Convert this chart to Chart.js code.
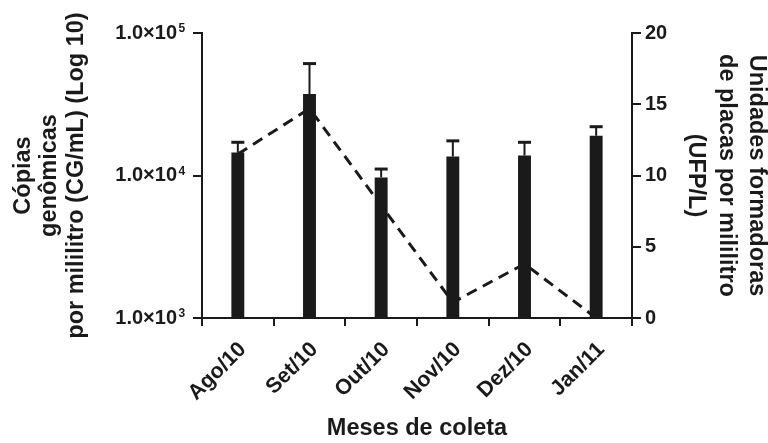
<!DOCTYPE html>
<html>
<head>
<meta charset="utf-8">
<script src="https://cdn.jsdelivr.net/npm/chart.js@4"></script>
<style>
  html, body { margin: 0; padding: 0; background: #fff; }
  #wrap { width: 768px; height: 443px; }
</style>
</head>
<body>
<div id="wrap"><canvas id="chart" width="768" height="443"></canvas></div>
<script>
"use strict";

// data
const months = ["Ago/10", "Set/10", "Out/10", "Nov/10", "Dez/10", "Jan/11"];
const copies = [14500, 37300, 9700, 13600, 13800, 19000];        // CG/mL (bars)
const copiesUpper = [17100, 61000, 11100, 17500, 17100, 22000];  // top of error bars
const ufp = [11.5, 14.7, 7.9, 1.1, 3.8, 0];                      // UFP/L (dashed line)
const leftTicks = [1000, 10000, 100000];
const leftTickBase = "1.0×10";
const leftTickExp = ["3", "4", "5"];
const rightTicks = [0, 5, 10, 15, 20];

const INK = "#1a1a1a";
const FONT = "'Liberation Sans', Arial, sans-serif";
const TICK_LEN = 9;
const LEFT_PAD = 16;

// error bars (upper only) drawn from the y scale
const errorBars = {
    id: "errorBars",
    afterDatasetsDraw(chart) {
        const meta = chart.getDatasetMeta(0);
        const y = chart.scales.y;
        const ctx = chart.ctx;
        ctx.save();
        ctx.strokeStyle = INK;
        meta.data.forEach((bar, i) => {
            const top = y.getPixelForValue(copiesUpper[i]);
            ctx.lineWidth = 2;
            ctx.beginPath();
            ctx.moveTo(bar.x, bar.y);
            ctx.lineTo(bar.x, top);
            ctx.stroke();
            ctx.lineWidth = 3;
            ctx.beginPath();
            ctx.moveTo(bar.x - 6.5, top);
            ctx.lineTo(bar.x + 6.5, top);
            ctx.stroke();
        });
        ctx.restore();
    }
};

// exponents of the left tick labels (1.0x10^n)
const exponents = {
    id: "exponents",
    afterDraw(chart) {
        const y = chart.scales.y;
        const ctx = chart.ctx;
        ctx.save();
        ctx.fillStyle = INK;
        ctx.font = "bold 12px " + FONT;
        ctx.textAlign = "left";
        ctx.textBaseline = "alphabetic";
        leftTicks.forEach((v, i) => {
            const py = y.getPixelForValue(v);
            ctx.fillText(leftTickExp[i], y.right - TICK_LEN - LEFT_PAD + 1.5, py - 1);
        });
        ctx.restore();
    }
};

const axisGrid = { drawOnChartArea: false, drawTicks: true, tickLength: TICK_LEN, color: INK, lineWidth: 2 };
const axisBorder = { display: true, color: INK, width: 2 };

new Chart(document.getElementById("chart"), {
    data: {
        labels: months,
        datasets: [
            {
                type: "bar",
                data: copies,
                yAxisID: "y",
                backgroundColor: INK,
                barPercentage: 0.18,
                categoryPercentage: 1,
                order: 2
            },
            {
                type: "line",
                data: ufp,
                yAxisID: "y1",
                borderColor: INK,
                borderWidth: 3,
                borderDash: [11, 7],
                pointRadius: 0,
                tension: 0,
                order: 1
            }
        ]
    },
    options: {
        responsive: false,
        animation: false,
        layout: { padding: { top: 33, left: 0, right: 0, bottom: 0 } },
        plugins: { legend: { display: false }, tooltip: { enabled: false } },
        scales: {
            x: {
                offset: true,
                grid: Object.assign({}, axisGrid, { tickLength: 8 }),
                border: axisBorder,
                ticks: {
                    color: INK, minRotation: 45, maxRotation: 45, padding: 11, labelOffset: 5,
                    font: { family: FONT, size: 21.5, weight: "bold" }
                },
                title: {
                    display: true, text: "Meses de coleta", color: INK,
                    padding: { top: 0, bottom: 0 },
                    font: { family: FONT, size: 23.5, weight: "bold" }
                },
                afterFit(s) { s.height = 125; }
            },
            y: {
                type: "logarithmic",
                position: "left",
                min: 1000,
                max: 100000,
                grid: axisGrid,
                border: axisBorder,
                afterBuildTicks(s) { s.ticks = leftTicks.map(v => ({ value: v })); },
                ticks: {
                    color: INK, padding: LEFT_PAD,
                    font: { family: FONT, size: 20, weight: "bold" },
                    callback: () => leftTickBase
                },
                title: {
                    display: true,
                    text: ["Cópias", "genômicas", "por mililitro (CG/mL) (Log 10)"],
                    color: INK,
                    padding: { top: 10, bottom: 0 },
                    font: { family: FONT, size: 23.5, weight: "bold", lineHeight: 1.13 }
                },
                afterFit(s) { s.width = 202; }
            },
            y1: {
                type: "linear",
                position: "right",
                min: 0,
                max: 20,
                grid: axisGrid,
                border: axisBorder,
                afterBuildTicks(s) { s.ticks = rightTicks.map(v => ({ value: v })); },
                ticks: {
                    color: INK, padding: 4,
                    font: { family: FONT, size: 20, weight: "bold" }
                },
                title: {
                    display: true,
                    text: ["Unidades formadoras", "de placas por mililitro", "(UFP/L)"],
                    color: INK,
                    padding: { top: -4, bottom: 0 },
                    font: { family: FONT, size: 23.5, weight: "bold", lineHeight: 1.3 }
                },
                afterFit(s) { s.width = 136; }
            }
        }
    },
    plugins: [errorBars, exponents]
});
</script>
</body>
</html>
